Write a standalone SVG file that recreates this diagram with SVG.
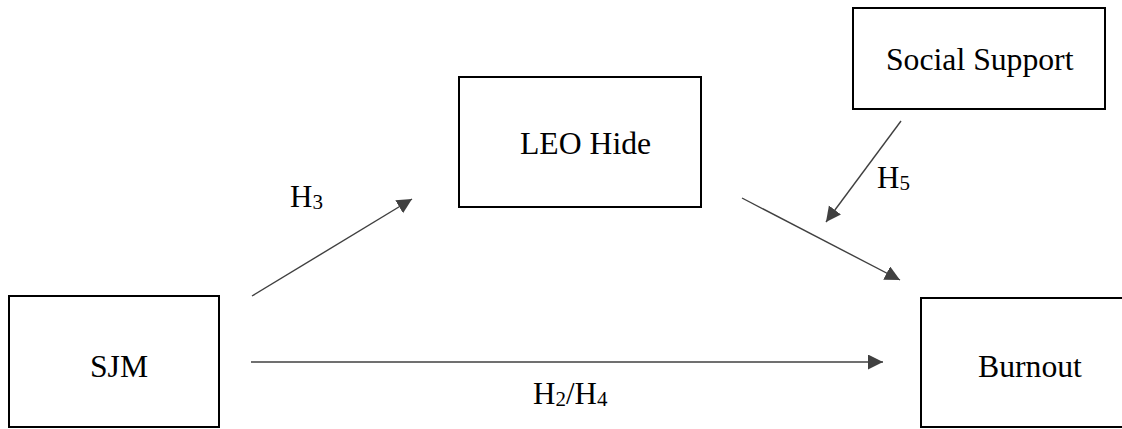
<svg xmlns="http://www.w3.org/2000/svg" width="1122" height="429" viewBox="0 0 1122 429">
  <style>
    .box { fill: #ffffff; stroke: #000000; stroke-width: 2; }
    .label { font-family: "Liberation Serif", "Times New Roman", serif; font-size: 31.7px; fill: #000000; }
    .hyp { font-family: "Liberation Serif", "Times New Roman", serif; font-size: 31px; fill: #000000; }
    .sub { font-size: 21px; }
    .link { stroke: #404040; stroke-width: 1.4; fill: none; marker-end: url(#arrow); }
  </style>
  <defs>
    <marker id="arrow" markerUnits="userSpaceOnUse" markerWidth="16" markerHeight="16" refX="15" refY="7.5" orient="auto">
      <path d="M0,0 L15,7.5 L0,15 Z" fill="#404040"/>
    </marker>
  </defs>
  <rect width="1122" height="429" fill="#ffffff"/>

  <g id="node-sjm">
    <rect class="box" x="9" y="296" width="210" height="131"/>
    <text class="label" x="90" y="377">SJM</text>
  </g>

  <g id="node-leo-hide">
    <rect class="box" x="459" y="77" width="242" height="130"/>
    <text class="label" x="520" y="154">LEO Hide</text>
  </g>

  <g id="node-social-support">
    <rect class="box" x="853" y="8" width="252" height="101"/>
    <text class="label" x="886" y="70">Social Support</text>
  </g>

  <g id="node-burnout">
    <rect class="box" x="921" y="298" width="220" height="129"/>
    <text class="label" x="978" y="377">Burnout</text>
  </g>

  <g id="connectors">
    <line class="link" x1="252" y1="296" x2="412" y2="199"/>
    <line class="link" x1="742" y1="198" x2="900" y2="280"/>
    <line class="link" x1="901" y1="121" x2="826" y2="222"/>
    <line class="link" x1="251" y1="362" x2="883" y2="362"/>
  </g>

  <g id="labels">
    <text class="hyp" x="290" y="207">H<tspan class="sub" dy="2">3</tspan></text>
    <text class="hyp" x="877" y="188">H<tspan class="sub" dy="2">5</tspan></text>
    <text class="hyp" x="533" y="404">H<tspan class="sub" dy="2">2</tspan><tspan dy="-2">/H</tspan><tspan class="sub" dy="2">4</tspan></text>
  </g>
</svg>
